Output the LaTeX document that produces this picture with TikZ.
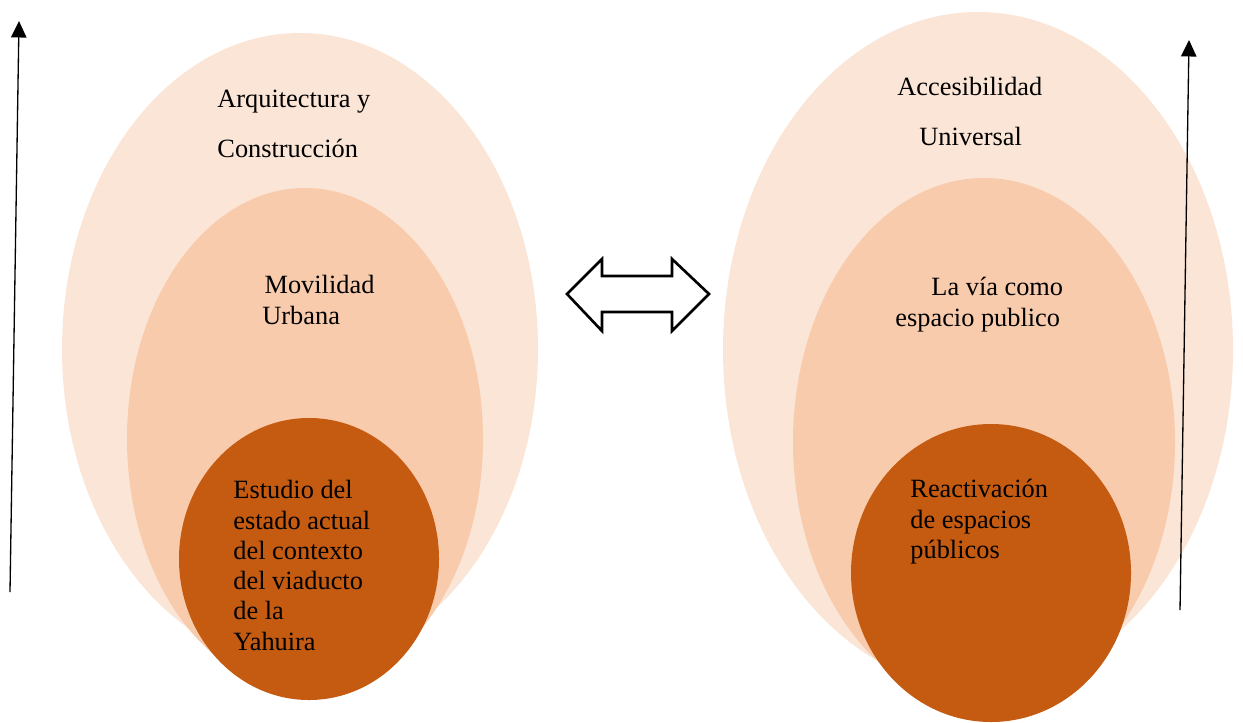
\documentclass[tikz,border=0pt]{standalone}
\usepackage{fontspec}
\setmainfont{Liberation Serif}
\usetikzlibrary{arrows.meta}

\definecolor{peachlight}{HTML}{FBE5D6}
\definecolor{peachmid}{HTML}{F8CBAD}
\definecolor{rust}{HTML}{C55A11}

\begin{document}
\begin{tikzpicture}[x=0.016cm, y=-0.016cm,
    every node/.style={inner sep=0pt},
    txt/.style={anchor=north west, align=left, font=\fontsize{12}{13.8}\selectfont},
    wide/.style={txt, font=\fontsize{12}{22.7}\selectfont},
    vec/.style={line width=0.6pt, -{Triangle[length=7.5pt,width=7pt]}}]
    \useasboundingbox (0,0) rectangle (1243,722);
    % left group
    \fill[peachlight] (300,349) ellipse [x radius=238, y radius=316];
    \fill[peachmid] (305,439) ellipse [x radius=178, y radius=251];
    \fill[rust] (309,559) ellipse [x radius=130, y radius=141];
    % right group
    \fill[peachlight] (978,350) ellipse [x radius=255, y radius=338];
    \fill[peachmid] (984,442) ellipse [x radius=191, y radius=264];
    \fill[rust] (991,573) ellipse [x radius=140, y radius=149];
    % double arrow
    \draw[line width=1.2pt, fill=white, line join=miter]
        (567,294) -- (602,259) -- (602,276) -- (672,276) -- (672,259) -- (709,294)
        -- (672,331) -- (672,312) -- (602,312) -- (602,331) -- cycle;
    % side arrows
    \coordinate (l_tail) at (10,592);
    \coordinate (l_head) at (19,21);
    \coordinate (r_tail) at (1180,610);
    \coordinate (r_head) at (1189,40);
    \draw[vec] (l_tail) -- (l_head);
    \draw[vec] (r_tail) -- (r_head);
    % labels
    \node[wide] (t_arq) at (217,90) {Arquitectura y\\Construcción};
    \node[txt] (t_mov) at (262,275) {\hspace*{1pt}Movilidad\\Urbana};
    \node[txt] (t_est) at (233,480) {Estudio del\\estado actual\\del contexto\\del viaducto\\de la\\Yahuira};
    \node[wide] (t_acc) at (897,77) {Accesibilidad\\\hspace*{10pt}Universal};
    \node[txt] (t_via) at (895,277) {\hspace*{16.4pt}La vía como\\espacio publico};
    \node[txt] (t_rea) at (910,479) {Reactivación\\de espacios\\públicos};
\end{tikzpicture}
\end{document}
